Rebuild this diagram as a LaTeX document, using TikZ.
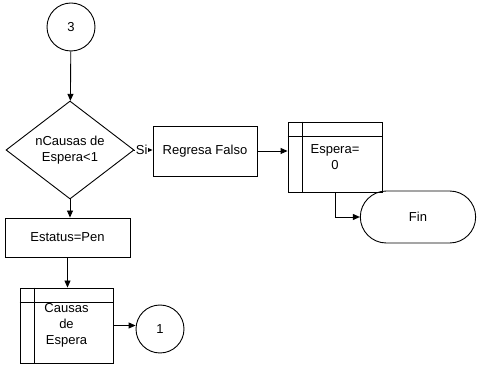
\documentclass[tikz,border=0pt]{standalone}
\usepackage{fontspec}
\setmainfont{Liberation Sans}
\usepackage{tikz}
\usetikzlibrary{arrows.meta}
\usetikzlibrary{shapes.geometric, shapes.misc, positioning}

\tikzset{
  caja/.style={draw, rectangle, line width=0.9pt, align=center},
  conector/.style={draw, circle, line width=0.9pt, minimum size=48pt, inner sep=0pt},
  flecha/.style={line width=0.9pt, -{Triangle[length=7pt,width=6pt]}},
}

\begin{document}
\begin{tikzpicture}[x=1pt, y=-1pt, font=\fontsize{13}{16}\selectfont]
        \useasboundingbox (0,0) rectangle (480,366);

        % Conectores
        \node[conector] (c3) at (71,27) {3};
        \node[conector] (c1) at (160,329) {1};

        % Decision
        \node[draw, diamond, line width=0.9pt, aspect=1.3, inner sep=0pt,
              minimum width=128pt, minimum height=98pt, align=center]
              (dec) at (70,150) {nCausas de\\Espera<1};

        % Cajas
        \node[caja, minimum width=104pt, minimum height=50pt] (regresa) at (205,151) {Regresa Falso};
        \node[caja, minimum width=94pt, minimum height=70pt] (espera) at (335,157) {Espera=\\0};
        \node[caja, minimum width=125pt, minimum height=39pt] (estatus) at (67.5,237.5) {Estatus=Pen};
        \node[caja, minimum width=93pt, minimum height=75pt] (causas) at (66.5,325.5) {Causas\\de\\Espera};
        \node[draw, rounded rectangle, line width=0.9pt, minimum width=122pt, minimum height=52pt]
              (fin) at (418,217) {Fin};

        % Lineas internas (subproceso)
        \draw[line width=0.9pt] ([xshift=15pt]espera.north west) -- ([xshift=15pt]espera.south west);
        \draw[line width=0.9pt] ([yshift=-15pt]espera.north west) -- ([yshift=-15pt]espera.north east);
        \draw[line width=0.9pt] ([xshift=15pt]causas.north west) -- ([xshift=15pt]causas.south west);
        \draw[line width=0.9pt] ([yshift=-15pt]causas.north west) -- ([yshift=-15pt]causas.north east);

        % Flechas
        \draw[flecha] (c3) -- (dec);
        \draw[flecha] (dec.east) -- (dec.east -| regresa.west)
            node[pos=0.4, fill=white, inner sep=0.5pt] {Si};
        \draw[flecha] (regresa.east) -- (regresa.east -| espera.west);
        \draw[flecha] (espera.south) |- (fin.west);
        \draw[flecha] (dec.south) -- (dec.south |- estatus.north);
        \draw[flecha] (estatus.south) -- (estatus.south |- causas.north);
        \draw[flecha] (causas.east) -- (causas.east -| c1.west);
    \end{tikzpicture}
\end{document}
